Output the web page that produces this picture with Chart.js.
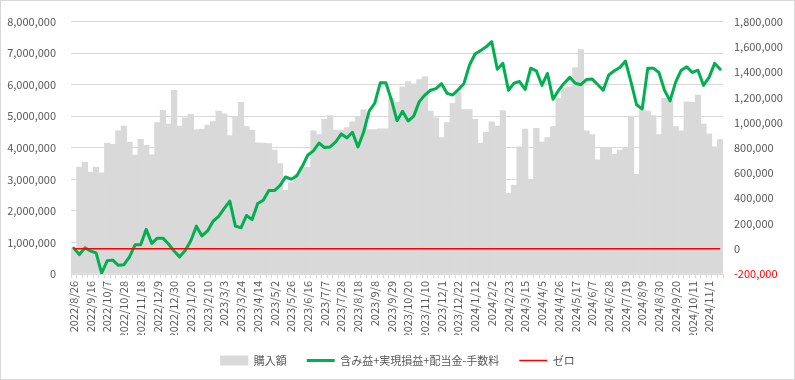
<!DOCTYPE html>
<html><head><meta charset="utf-8">
<script src="https://cdn.jsdelivr.net/npm/chart.js@4/dist/chart.umd.min.js"></script>
<style>html,body{margin:0;padding:0;background:#fff;}canvas{display:block;}</style>
</head><body>
<canvas id="c" width="795" height="380"></canvas>
<script>
// Category labels (weekly)
const weeks = [
"2022/8/26","2022/9/2","2022/9/9","2022/9/16","2022/9/23","2022/9/30","2022/10/7","2022/10/14","2022/10/21","2022/10/28",
"2022/11/4","2022/11/11","2022/11/18","2022/11/25","2022/12/2","2022/12/9","2022/12/16","2022/12/23","2022/12/30","2023/1/6",
"2023/1/13","2023/1/20","2023/1/27","2023/2/3","2023/2/10","2023/2/17","2023/2/24","2023/3/3","2023/3/10","2023/3/17",
"2023/3/24","2023/3/31","2023/4/7","2023/4/14","2023/4/21","2023/4/28","2023/5/2","2023/5/12","2023/5/19","2023/5/26",
"2023/6/2","2023/6/9","2023/6/16","2023/6/23","2023/6/30","2023/7/7","2023/7/14","2023/7/21","2023/7/28","2023/8/4",
"2023/8/11","2023/8/18","2023/8/25","2023/9/1","2023/9/8","2023/9/15","2023/9/22","2023/9/29","2023/10/6","2023/10/13",
"2023/10/20","2023/10/27","2023/11/3","2023/11/10","2023/11/17","2023/11/24","2023/12/1","2023/12/8","2023/12/15","2023/12/22",
"2023/12/29","2024/1/5","2024/1/12","2024/1/19","2024/1/26","2024/2/2","2024/2/9","2024/2/16","2024/2/23","2024/3/1",
"2024/3/8","2024/3/15","2024/3/22","2024/3/29","2024/4/5","2024/4/12","2024/4/19","2024/4/26","2024/5/3","2024/5/10",
"2024/5/17","2024/5/24","2024/5/31","2024/6/7","2024/6/14","2024/6/21","2024/6/28","2024/7/5","2024/7/12","2024/7/19",
"2024/7/26","2024/8/2","2024/8/9","2024/8/16","2024/8/23","2024/8/30","2024/9/6","2024/9/13","2024/9/20","2024/9/27",
"2024/10/4","2024/10/11","2024/10/18","2024/10/25","2024/11/1","2024/11/8","2024/11/15"
];

// 購入額 (left axis, yen)
const purchase = [
830000,3390000,3550000,3230000,3390000,3210000,4150000,4110000,4540000,4690000,
4180000,3770000,4270000,4080000,3780000,4800000,5190000,4750000,5820000,4690000,
4950000,5060000,4570000,4590000,4720000,4830000,5160000,5080000,4390000,4970000,
5440000,4670000,4560000,4160000,4150000,4130000,3930000,3500000,2650000,2900000,
3160000,3390000,3380000,4540000,4420000,4900000,5020000,4560000,4560000,4640000,
4820000,4980000,5200000,4580000,4580000,4600000,4600000,5570000,5450000,5930000,
6100000,6030000,6160000,6250000,5160000,4950000,4320000,4800000,5410000,5770000,
5210000,5210000,4900000,4150000,4490000,4820000,4690000,5180000,2560000,2820000,
4030000,4590000,3000000,4620000,4180000,4320000,4670000,5570000,5900000,5930000,
6540000,7110000,4540000,4420000,3620000,4000000,4000000,3790000,3930000,4000000,
5000000,3160000,5210000,5160000,5020000,4420000,5570000,5500000,4670000,4540000,
5460000,5440000,5670000,4750000,4440000,4030000,4260000
];

// 含み益+実現損益+配当金-手数料 (right axis, yen)
const profit = [
5000,-46000,7000,-18000,-33000,-193000,-95000,-90000,-131000,-126000,
-64000,31000,31000,154000,43000,84000,84000,38000,-18000,-64000,
-13000,64000,179000,102000,141000,218000,256000,320000,377000,179000,
166000,264000,231000,359000,384000,461000,461000,500000,569000,551000,
577000,653000,743000,776000,838000,802000,807000,846000,910000,879000,
923000,807000,923000,1090000,1153000,1315000,1315000,1179000,1015000,1089000,
1012000,1051000,1166000,1218000,1256000,1269000,1308000,1231000,1218000,1261000,
1308000,1454000,1543000,1570000,1600000,1641000,1423000,1469000,1256000,1312000,
1325000,1262000,1431000,1410000,1295000,1389000,1185000,1256000,1312000,1358000,
1312000,1300000,1341000,1346000,1302000,1256000,1377000,1410000,1436000,1487000,
1320000,1141000,1108000,1431000,1431000,1397000,1256000,1172000,1320000,1415000,
1441000,1397000,1415000,1295000,1358000,1469000,1423000
];

// ゼロ (right axis)
const zero = [
0,0,0,0,0,0,0,0,0,0, 0,0,0,0,0,0,0,0,0,0, 0,0,0,0,0,0,0,0,0,0,
0,0,0,0,0,0,0,0,0,0, 0,0,0,0,0,0,0,0,0,0, 0,0,0,0,0,0,0,0,0,0,
0,0,0,0,0,0,0,0,0,0, 0,0,0,0,0,0,0,0,0,0, 0,0,0,0,0,0,0,0,0,0,
0,0,0,0,0,0,0,0,0,0, 0,0,0,0,0,0,0,0,0,0, 0,0,0,0,0,0,0
];

const seriesNames = ["購入額", "含み益+実現損益+配当金-手数料", "ゼロ"];
const FONT = "'Noto Sans CJK JP', 'Noto Sans', sans-serif";
const TXT = '#595959';
const BAR = '#d9d9d9';
const GREEN = '#00b050';
const RED = '#ff0000';

const frame = {
  id: 'frame',
  beforeDraw(chart) {
    const c = chart.ctx;
    c.save(); c.fillStyle = '#fff'; c.fillRect(0, 0, chart.width, chart.height); c.restore();
  },
  afterDraw(chart) {
    const c = chart.ctx;
    c.save(); c.strokeStyle = '#d9d9d9'; c.lineWidth = 1;
    c.strokeRect(0.5, 0.5, chart.width - 1, chart.height - 1); c.restore();
  }
};

new Chart(document.getElementById('c'), {
  type: 'bar',
  data: {
    labels: weeks,
    datasets: [
      { type: 'bar', label: seriesNames[0], data: purchase, backgroundColor: BAR, yAxisID: 'y', order: 2,
        categoryPercentage: 1, barPercentage: 1 },
      { type: 'line', label: seriesNames[1], data: profit, borderColor: GREEN, backgroundColor: GREEN, borderWidth: 3,
        pointRadius: 0, yAxisID: 'y1', order: 1, tension: 0, borderJoinStyle: 'round', borderCapStyle: 'round' },
      { type: 'line', label: seriesNames[2], data: zero, borderColor: RED, backgroundColor: RED, borderWidth: 1.5,
        pointRadius: 0, yAxisID: 'y1', order: 0 }
    ]
  },
  options: {
    responsive: false, animation: false, devicePixelRatio: 1,
    layout: { padding: { top: 14, left: 0, right: 0, bottom: 4 } },
    plugins: {
      tooltip: { enabled: false },
      legend: {
        position: 'bottom',
        labels: {
          usePointStyle: true, pointStyleWidth: 28, boxHeight: 10, padding: 20,
          color: TXT, font: { family: FONT, size: 11 },
          generateLabels: () => [
            { text: seriesNames[0], fillStyle: BAR, strokeStyle: BAR, lineWidth: 0, pointStyle: 'rect', hidden: false, datasetIndex: 0, fontColor: TXT },
            { text: seriesNames[1], fillStyle: GREEN, strokeStyle: GREEN, lineWidth: 3, pointStyle: 'line', hidden: false, datasetIndex: 1, fontColor: TXT },
            { text: seriesNames[2], fillStyle: RED, strokeStyle: RED, lineWidth: 1.5, pointStyle: 'line', hidden: false, datasetIndex: 2, fontColor: TXT }
          ]
        }
      }
    },
    scales: {
      x: {
        grid: { display: true, drawOnChartArea: false, drawTicks: true, tickLength: 4, color: '#d9d9d9', offset: true },
        border: { display: true, color: '#d9d9d9' },
        ticks: { autoSkip: false, maxRotation: 90, minRotation: 90, padding: 3, color: TXT,
          font: { family: FONT, size: 11 },
          callback: (v, i) => (i % 3 === 0 ? weeks[i] : '') },
        afterFit: (s) => { s.height = 61; }
      },
      y: {
        position: 'left', min: 0, max: 8000000,
        ticks: { stepSize: 1000000, padding: 15, color: TXT, font: { family: FONT, size: 11 },
          callback: (v) => v.toLocaleString('en-US') },
        grid: { color: '#d9d9d9', drawTicks: false },
        border: { display: false },
        afterFit: (s) => { s.width = 71; }
      },
      y1: {
        position: 'right', min: -200000, max: 1800000,
        ticks: { stepSize: 200000, padding: 11, font: { family: FONT, size: 11 },
          color: (c) => (c.tick && c.tick.value < 0 ? RED : TXT),
          callback: (v) => v.toLocaleString('en-US') },
        grid: { display: false, drawTicks: false },
        border: { display: false },
        afterFit: (s) => { s.width = 72; }
      }
    }
  },
  plugins: [frame]
});
</script>
</body></html>
